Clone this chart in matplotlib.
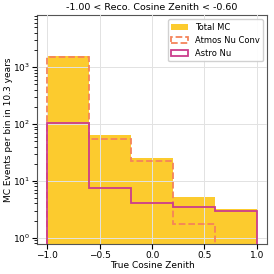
import numpy as np
import matplotlib.pyplot as plt

bin_edges = [-1.0, -0.6, -0.2, 0.2, 0.6, 1.0]
total_mc = [1560, 64, 25.5, 5.2, 3.2]
atmos_conv = [1500, 55, 22.5, 1.75, 0.0]
astro_nu = [103, 7.6, 4.1, 3.5, 3.0]

title = "-1.00 < Reco. Cosine Zenith < -0.60"

plt.rcParams['font.size'] = 6.5

fig, ax = plt.subplots(figsize=(2.74, 2.74), dpi=100)
fig.subplots_adjust(left=0.135, right=0.975, top=0.945, bottom=0.11)

centers = 0.5 * (np.array(bin_edges[:-1]) + np.array(bin_edges[1:]))
ax.hist(centers, bins=bin_edges, weights=total_mc, histtype='stepfilled',
        color='#fcc617', alpha=0.9, label='Total MC', zorder=1)
ax.hist(centers, bins=bin_edges, weights=atmos_conv, histtype='step',
        color='#f5845a', linestyle='--', linewidth=1.3, label='Atmos Nu Conv', zorder=3)
ax.hist(centers, bins=bin_edges, weights=astro_nu, histtype='step',
        color='#cc3d8c', linewidth=1.3, label='Astro Nu', zorder=4)

ax.set_yscale('log')
ax.set_xlim(-1.1, 1.1)
ax.set_ylim(0.78, 8200)
ax.grid(True, color='#e2e2e2', linewidth=0.7, zorder=2)
ax.set_axisbelow(False)
for s in ax.spines.values():
    s.set_color('#555555')
ax.tick_params(labelsize=6.5, pad=1.5)
ax.set_xticks([-1.0, -0.5, 0.0, 0.5, 1.0])
ax.set_title(title, fontsize=6.8, pad=4)
ax.set_xlabel("True Cosine Zenith", labelpad=1)
ax.set_ylabel("MC Events per bin in 10.3 years", labelpad=0)
ax.legend(loc='upper right', fontsize=6, framealpha=0.9)

plt.savefig('out.png', dpi=100)
